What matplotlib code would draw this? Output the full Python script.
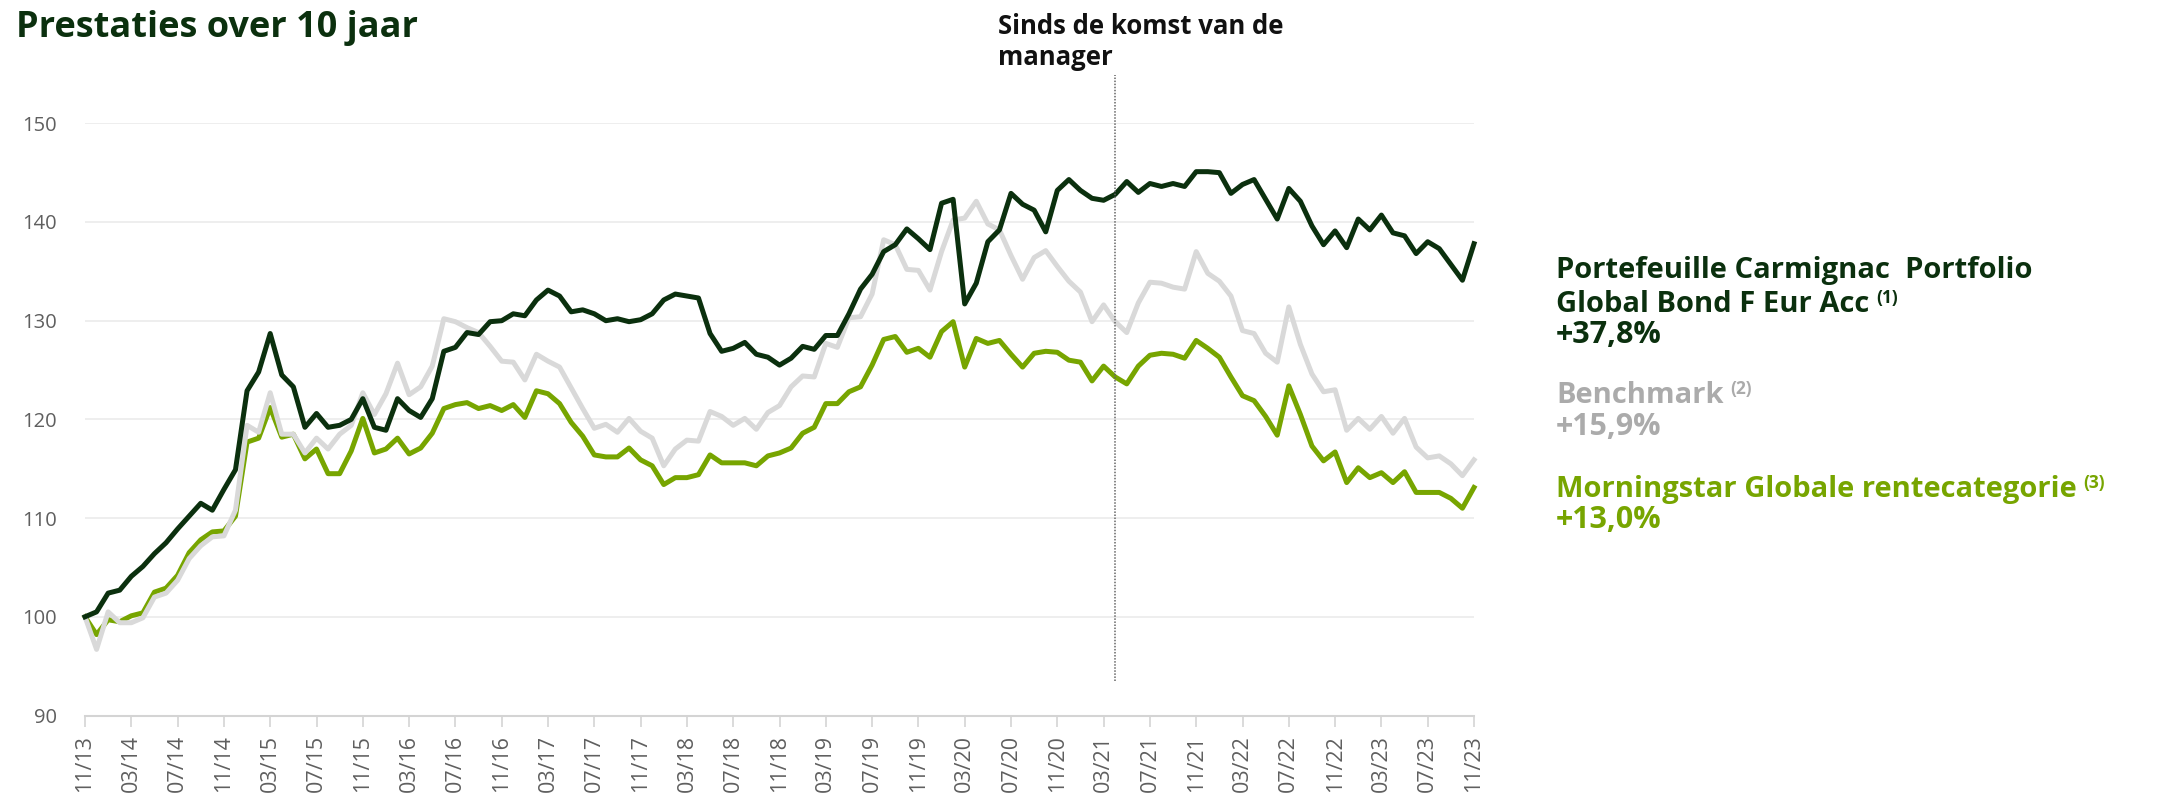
import matplotlib
matplotlib.use('Agg')
import matplotlib.pyplot as plt
import numpy as np

# ---------------- data (monthly, 11/2013 .. 11/2023, base 100) ----------------
portfolio = [100.0, 100.5, 102.4, 102.7, 104.1, 105.1, 106.4, 107.5, 108.9, 110.2,
             111.5, 110.8, 112.9, 114.9, 122.9, 124.8, 128.7, 124.5, 123.3, 119.2,
             120.6, 119.2, 119.4, 120.0, 122.1, 119.2, 118.9, 122.1, 120.9, 120.2,
             122.1, 126.9, 127.3, 128.8, 128.6, 129.9, 130.0, 130.7, 130.5, 132.1,
             133.1, 132.5, 130.9, 131.1, 130.7, 130.0, 130.2, 129.9, 130.1, 130.7,
             132.1, 132.7, 132.5, 132.3, 128.7, 126.9, 127.2, 127.8, 126.6, 126.3,
             125.5, 126.2, 127.4, 127.1, 128.5, 128.5, 130.7, 133.2, 134.7, 137.0,
             137.7, 139.3, 138.3, 137.2, 141.9, 142.3, 131.7, 133.8, 138.0, 139.2,
             142.9, 141.8, 141.2, 139.0, 143.2, 144.3, 143.2, 142.4, 142.2, 142.8,
             144.1, 143.0, 143.9, 143.6, 143.9, 143.6, 145.1, 145.1, 145.0, 142.9,
             143.8, 144.3, 142.3, 140.3, 143.4, 142.1, 139.6, 137.7, 139.1, 137.4,
             140.3, 139.2, 140.7, 138.9, 138.6, 136.8, 138.0, 137.3, 135.7, 134.1,
             137.8]

benchmark = [100.0, 96.7, 100.5, 99.4, 99.4, 99.9, 102.0, 102.4, 103.7, 105.9,
             107.2, 108.1, 108.2, 110.8, 119.4, 118.7, 122.7, 118.5, 118.5, 116.6,
             118.1, 117.0, 118.5, 119.4, 122.7, 120.5, 122.6, 125.7, 122.5, 123.3,
             125.4, 130.2, 129.9, 129.3, 128.8, 127.4, 125.9, 125.8, 124.0, 126.6,
             125.9, 125.3, 123.2, 121.1, 119.1, 119.5, 118.7, 120.1, 118.8, 118.1,
             115.3, 117.0, 117.9, 117.8, 120.8, 120.3, 119.4, 120.1, 119.0, 120.7,
             121.4, 123.3, 124.4, 124.3, 127.7, 127.3, 130.3, 130.4, 132.7, 138.2,
             137.7, 135.2, 135.1, 133.1, 137.0, 140.2, 140.4, 142.1, 139.8, 139.2,
             136.6, 134.2, 136.4, 137.1, 135.5, 134.0, 132.9, 129.9, 131.6, 129.9,
             128.8, 131.8, 133.9, 133.8, 133.4, 133.2, 137.0, 134.8, 134.0, 132.5,
             129.0, 128.7, 126.7, 125.8, 131.4, 127.6, 124.6, 122.8, 123.0, 118.9,
             120.1, 119.0, 120.3, 118.6, 120.1, 117.2, 116.1, 116.3, 115.5, 114.3,
             115.9]

category = [100.0, 98.2, 99.7, 99.5, 100.1, 100.4, 102.5, 102.9, 104.2, 106.5,
            107.8, 108.6, 108.7, 110.2, 117.7, 118.1, 121.2, 118.2, 118.5, 116.0,
            117.0, 114.5, 114.5, 116.8, 120.1, 116.6, 117.0, 118.1, 116.5, 117.1,
            118.6, 121.1, 121.5, 121.7, 121.1, 121.4, 120.9, 121.5, 120.2, 122.9,
            122.6, 121.6, 119.7, 118.3, 116.4, 116.2, 116.2, 117.1, 115.9, 115.3,
            113.4, 114.1, 114.1, 114.4, 116.4, 115.6, 115.6, 115.6, 115.3, 116.3,
            116.6, 117.1, 118.6, 119.2, 121.6, 121.6, 122.8, 123.3, 125.5, 128.1,
            128.4, 126.8, 127.2, 126.3, 128.9, 129.9, 125.3, 128.2, 127.7, 128.0,
            126.6, 125.3, 126.7, 126.9, 126.8, 126.0, 125.8, 123.9, 125.4, 124.3,
            123.6, 125.4, 126.5, 126.7, 126.6, 126.2, 128.0, 127.2, 126.3, 124.3,
            122.4, 121.9, 120.3, 118.4, 123.4, 120.5, 117.3, 115.8, 116.7, 113.6,
            115.1, 114.1, 114.6, 113.6, 114.7, 112.6, 112.6, 112.6, 112.0, 111.0,
            113.1]

tick_labels = ['11/13', '03/14', '07/14', '11/14', '03/15', '07/15', '11/15', '03/16',
               '07/16', '11/16', '03/17', '07/17', '11/17', '03/18', '07/18', '11/18',
               '03/19', '07/19', '11/19', '03/20', '07/20', '11/20', '03/21', '07/21',
               '11/21', '03/22', '07/22', '11/22', '03/23', '07/23', '11/23']
tick_step = 4
y_ticks = [90, 100, 110, 120, 130, 140, 150]
manager_start = 89

series_names = ['Portefeuille Carmignac  Portfolio\nGlobal Bond F Eur Acc', 'Benchmark',
                'Morningstar Globale rentecategorie']
series_notes = ['(1)', '(2)', '(3)']
series_returns = ['+37,8%', '+15,9%', '+13,0%']

# ---------------- style ----------------
DARK = '#0b300e'
GREY_LINE = '#d9d9d9'
GREY_TXT = '#ababab'
GREEN = '#77a500'
LABEL = '#5f5f5f'

plt.rcParams['font.family'] = ['Open Sans', 'DejaVu Sans']

W, H = 2167, 795
fig = plt.figure(figsize=(W / 100, H / 100), dpi=100)

x0, x1 = 85, 1474
ytop, ybot = 123.3, 715.5
ax = fig.add_axes([x0 / W, (H - ybot) / H, (x1 - x0) / W, (ybot - ytop) / H])

months = np.arange(len(portfolio))
lw = 3.6
ax.plot(months, category, color=GREEN, lw=lw, solid_joinstyle='round', clip_on=False, zorder=3)
ax.plot(months, benchmark, color=GREY_LINE, lw=lw, solid_joinstyle='round', clip_on=False, zorder=4)
ax.plot(months, portfolio, color=DARK, lw=lw, solid_joinstyle='round', clip_on=False, zorder=5)

ax.set_xlim(0, len(portfolio) - 1)
ax.set_ylim(y_ticks[0], y_ticks[-1])
ax.set_yticks(y_ticks)
ax.set_yticklabels([str(v) for v in y_ticks])
ax.set_xticks(np.arange(0, len(portfolio), tick_step))
ax.set_xticklabels(tick_labels)

ax.yaxis.grid(True, color='#ededed', lw=1.3)
ax.set_axisbelow(True)
for s in ['top', 'right', 'left']:
    ax.spines[s].set_visible(False)
ax.spines['bottom'].set_color('#d4d4d4')
ax.spines['bottom'].set_linewidth(1.5)

ax.tick_params(axis='y', length=0, pad=20, labelsize=14.5, labelcolor=LABEL)
ax.tick_params(axis='x', length=8, width=1.2, color='#d4d4d4', pad=6,
               labelsize=15.5, labelcolor=LABEL, labelrotation=90)

# manager start marker
ax.axvline(manager_start, ymin=(ybot - 681) / (ybot - ytop), ymax=(ybot - 75) / (ybot - ytop),
           color='#666666', lw=1.1, ls=(0, (1, 1)), clip_on=False, zorder=6)
fig.text(998 / W, 1 - 34 / H, 'Sinds de komst van de', fontsize=18.5, fontweight='bold',
         color='#111111', va='baseline', ha='left')
fig.text(998 / W, 1 - 65 / H, 'manager', fontsize=18.5, fontweight='bold',
         color='#111111', va='baseline', ha='left')

# title
fig.text(16 / W, 1 - 37 / H, 'Prestaties over 10 jaar', fontsize=26, fontweight='bold',
         color=DARK, va='baseline', ha='left')

# legend block on the right
lx = 1556 / W
colors = [DARK, GREY_TXT, GREEN]
baselines = [[278, 312, 343], [403, 435], [497, 528]]
fs = 21
for name, note, ret, col, bl in zip(series_names, series_notes, series_returns, colors, baselines):
    name_lines = name.split('\n')
    last = None
    for ln, b in zip(name_lines, bl[:-1]):
        last = fig.text(lx, 1 - b / H, ln, fontsize=fs, fontweight='bold', color=col,
                        va='baseline', ha='left')
    fig.text(lx, 1 - bl[-1] / H, ret, fontsize=fs + 1, fontweight='bold', color=col,
             va='baseline', ha='left')
    ax.annotate(note, xy=(1, 1), xycoords=last, xytext=(5, 1), textcoords='offset points',
                fontsize=12.5, fontweight='bold', color=col, va='top', ha='left',
                annotation_clip=False)

fig.savefig('out.png', dpi=100, facecolor='white')
